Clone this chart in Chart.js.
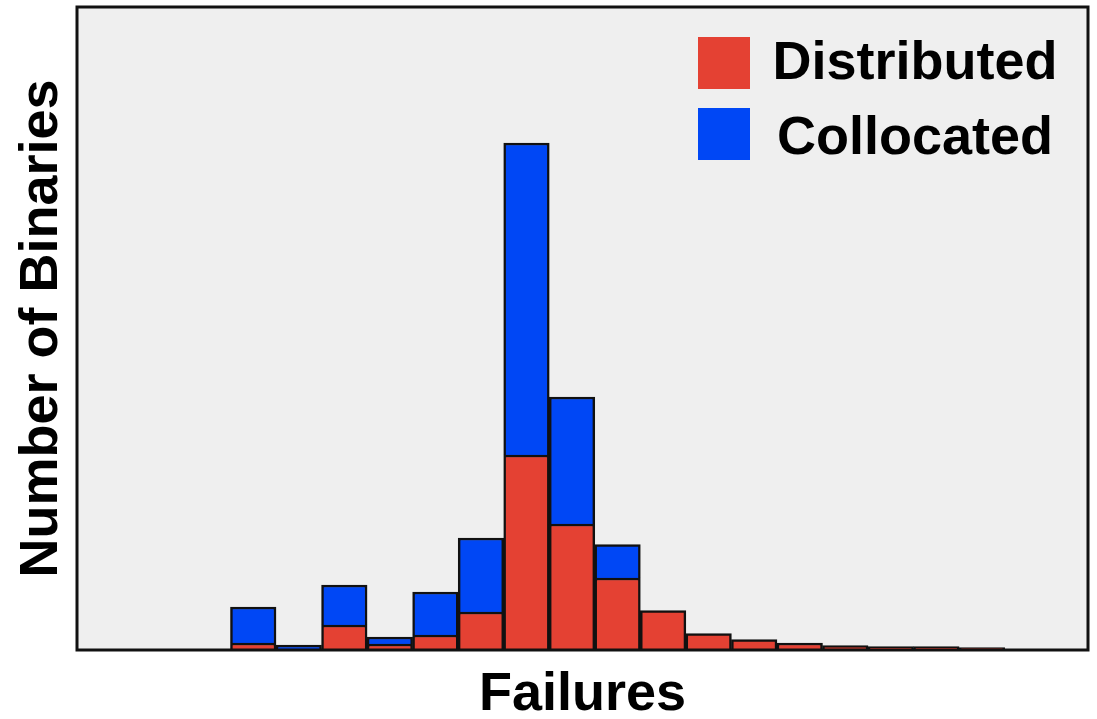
<!DOCTYPE html>
<html>
<head>
<meta charset="utf-8">
<script src="https://cdn.jsdelivr.net/npm/chart.js@4/dist/chart.umd.min.js"></script>
<style>
  html, body { margin: 0; padding: 0; background: #ffffff; }
  #wrap { position: relative; width: 1097px; height: 719px; }
  #chart { position: absolute; left: 0; top: 0; }
  .lg-box { position: absolute; width: 52px; height: 52px; }
  .lg-text { position: absolute; left: 764px; width: 302px; text-align: center;
             font-family: "Liberation Sans", Arial, sans-serif; font-weight: bold;
             font-size: 54px; line-height: 54px; height: 54px; color: #000; white-space: nowrap; }
</style>
</head>
<body>
<div id="wrap">
  <canvas id="chart" width="1097" height="719"></canvas>
  <div id="legend"></div>
</div>
<script>
// Histogram bins (bin index along the "Failures" axis)
const bins = [0, 1, 2, 3, 4, 5, 6, 7, 8, 9, 10, 11, 12, 13, 14, 15, 16];
// Bar heights (arbitrary units; no y tick labels shown)
const distributed = [7, 0, 25, 6, 15, 38, 195, 126, 72, 39.5, 16.5, 10.5, 7, 4.5, 3.5, 3.5, 2.5];
const collocated  = [36, 5, 40, 7, 43, 74, 312, 127, 33.5, 0, 0, 0, 0, 0, 0, 0, 0];
const seriesNames = ['Distributed', 'Collocated'];
const seriesColors = ['#E44133', '#0047F5'];
const xTitle = 'Failures';
const yTitle = 'Number of Binaries';

const FONT = '"Liberation Sans", Arial, sans-serif';

const plotFrame = {
  id: 'plotFrame',
  beforeDatasetsDraw(chart) {
    const {ctx, chartArea: a} = chart;
    ctx.save();
    ctx.fillStyle = '#EFEFEF';
    ctx.fillRect(a.left, a.top, a.right - a.left, a.bottom - a.top);
    ctx.restore();
  },
  afterDatasetsDraw(chart) {
    const {ctx, chartArea: a} = chart;
    ctx.save();
    ctx.strokeStyle = '#111111';
    ctx.lineWidth = 3;
    ctx.strokeRect(a.left, a.top, a.right - a.left, a.bottom - a.top);
    ctx.restore();
  }
};

const series = [distributed, collocated];
new Chart(document.getElementById('chart'), {
  type: 'bar',
  data: {
    datasets: series.map((vals, s) => ({
      label: seriesNames[s],
      data: bins.map((b, i) => ({x: b, y: vals[i]})),
      backgroundColor: seriesColors[s],
      borderColor: '#111111',
      borderWidth: 2.5,
      borderSkipped: 'start',
      categoryPercentage: 1,
      barPercentage: 1
    }))
  },
  options: {
    responsive: false,
    animation: false,
    devicePixelRatio: 1,
    layout: { padding: { left: 0, top: 7, right: 9, bottom: 0 } },
    plugins: { legend: { display: false }, tooltip: { enabled: false } },
    scales: {
      x: {
        type: 'linear',
        stacked: true,
        offset: false,
        min: -3.87,
        max: 18.33,
        grid: { display: false },
        border: { display: false },
        ticks: { display: false },
        title: {
          display: true, text: xTitle, color: '#000',
          font: { family: FONT, size: 54, weight: 'bold', lineHeight: 0.9 },
          padding: { top: 0, bottom: 0 }
        },
        afterFit(s) { s.height = 69; }
      },
      y: {
        stacked: true,
        min: 0,
        max: 643,
        grid: { display: false },
        border: { display: false },
        ticks: { display: false },
        title: {
          display: true, text: yTitle, color: '#000',
          font: { family: FONT, size: 54, weight: 'bold', lineHeight: 1 },
          padding: { top: 15, bottom: 0 }
        },
        afterFit(s) { s.width = 77; }
      }
    }
  },
  plugins: [plotFrame]
});

// Legend (HTML overlay inside the plot, top-right)
const legend = document.getElementById('legend');
const boxTops = [37, 108];
const textTops = [33, 108];
seriesNames.forEach((name, s) => {
  const box = document.createElement('div');
  box.className = 'lg-box';
  box.style.left = '698px';
  box.style.top = boxTops[s] + 'px';
  box.style.background = seriesColors[s];
  legend.appendChild(box);
  const t = document.createElement('div');
  t.className = 'lg-text';
  t.style.top = textTops[s] + 'px';
  t.textContent = name;
  legend.appendChild(t);
});
</script>
</body>
</html>
